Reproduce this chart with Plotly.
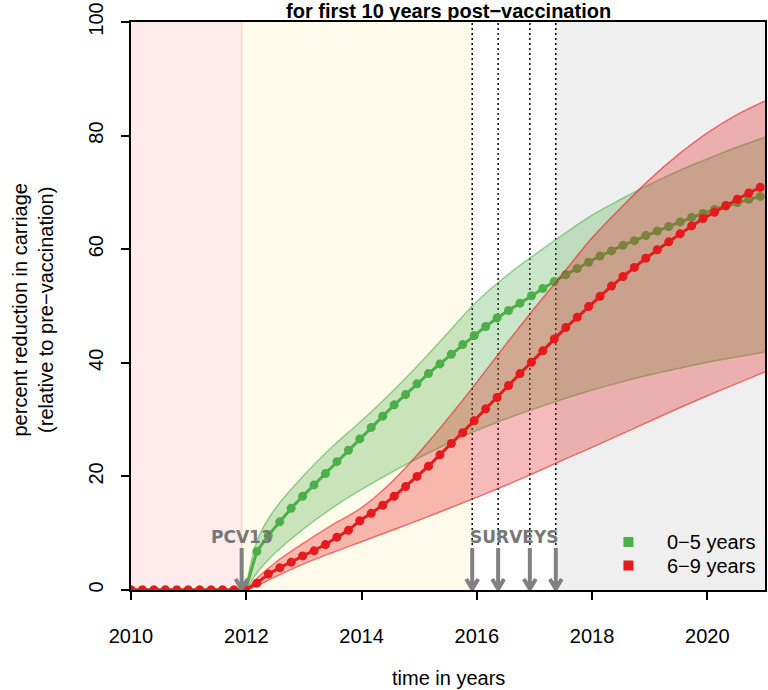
import numpy as np
import plotly.graph_objects as go

# ---- data -------------------------------------------------------------
# model time points (years), one every ~0.2 years from 2010
n_steps = 56
time = np.round(2010 + 0.1985 * np.arange(n_steps), 3)

pre_vaccine = [0.0] * 11  # no reduction before PCV13 introduction

# mean predicted percent reduction in carriage
reduction_0_5 = pre_vaccine + [
    6.8, 9.6, 12.0, 14.4, 16.5, 18.5, 20.5, 22.6, 24.6, 26.6,
    28.6, 30.6, 32.6, 34.4, 36.3, 38.1, 39.8, 41.5, 43.2, 44.8,
    46.4, 47.9, 49.2, 50.5, 51.8, 53.1, 54.3, 55.5, 56.6, 57.7,
    58.8, 59.7, 60.7, 61.5, 62.4, 63.2, 64.0, 64.8, 65.6, 66.3,
    67.0, 67.6, 68.2, 68.8, 69.3,
]
reduction_6_9 = pre_vaccine + [
    1.2, 2.8, 3.9, 4.9, 6.0, 6.9, 8.0, 9.3, 10.5, 12.2,
    13.5, 14.9, 16.5, 18.2, 20.0, 21.8, 23.8, 25.8, 27.7, 29.8,
    31.9, 33.9, 36.0, 38.1, 40.1, 42.1, 44.2, 46.2, 48.0, 49.9,
    51.7, 53.5, 55.2, 56.8, 58.4, 59.9, 61.3, 62.7, 64.1, 65.4,
    66.5, 67.7, 68.8, 69.9, 70.9,
]

# uncertainty bands
band_time = [2011.99, 2012.2, 2012.5, 2013.0, 2013.5, 2014.0, 2014.5, 2015.0,
             2015.5, 2016.0, 2016.5, 2017.0, 2017.5, 2018.0, 2018.5, 2019.0,
             2019.5, 2020.0, 2020.5, 2021.0]
band_0_5_high = [0, 9.0, 14.3, 20.2, 25.3, 29.8, 34.6, 39.8, 45.3, 50.8,
                 55.2, 59.0, 62.6, 66.0, 68.8, 71.4, 73.8, 75.9, 77.9, 79.7]
band_0_5_low = [0, 3.2, 6.5, 10.8, 14.5, 17.7, 20.6, 23.3, 25.8, 28.1,
                30.1, 31.9, 33.6, 35.2, 36.6, 37.9, 39.0, 40.1, 41.0, 41.9]
band_6_9_high = [0, 2.2, 4.8, 8.3, 11.5, 14.5, 18.8, 24.2, 30.2, 36.6,
                 43.2, 49.6, 55.8, 62.0, 67.3, 72.3, 76.7, 80.5, 83.6, 86.1]
band_6_9_low = [0, 0.8, 2.3, 4.6, 6.6, 8.5, 10.4, 12.3, 14.3, 16.3,
                18.4, 20.6, 22.9, 25.1, 27.4, 29.7, 32.0, 34.2, 36.3, 38.4]

pcv13_date = 2011.92
survey_dates = [2015.92, 2016.37, 2016.92, 2017.37]
x_ticks = [2010, 2012, 2014, 2016, 2018, 2020]
y_ticks = [0, 20, 40, 60, 80, 100]
age_groups = ["0\u22125 years", "6\u22129 years"]

# ---- styling ----------------------------------------------------------
GREEN_RGB = "77,175,74"
RED_RGB = "228,26,28"
GREEN = "#4DAF4A"
RED = "#E41A1C"
ARROW_GREY = "#808080"
FONT = "Liberation Sans"

W, H = 768, 690
M_L, M_R, M_T, M_B = 131, 1, 22, 100
plot_w = W - M_L - M_R
plot_h = H - M_T - M_B

fig = go.Figure()


def add_band(t, lo, hi, rgb):
    fig.add_trace(go.Scatter(
        x=t, y=lo, mode="lines", hoverinfo="skip", showlegend=False,
        line=dict(color=f"rgba({rgb},0.55)", width=1.5, shape="spline"),
    ))
    fig.add_trace(go.Scatter(
        x=t, y=hi, mode="lines", hoverinfo="skip", showlegend=False,
        fill="tonexty", fillcolor=f"rgba({rgb},0.3)",
        line=dict(color=f"rgba({rgb},0.55)", width=1.5, shape="spline"),
    ))


def add_mean(t, y, color):
    fig.add_trace(go.Scatter(
        x=t, y=y, mode="lines+markers", showlegend=False,
        line=dict(color=color, width=3),
        marker=dict(color=color, size=9),
    ))


add_band(band_time, band_0_5_low, band_0_5_high, GREEN_RGB)
add_mean(time, reduction_0_5, GREEN)
add_band(band_time, band_6_9_low, band_6_9_high, RED_RGB)
add_mean(time, reduction_6_9, RED)

# ---- background periods ------------------------------------------------
shapes = [
    dict(type="rect", xref="x", yref="paper", x0=2010, x1=pcv13_date, y0=0, y1=1,
         fillcolor="#FFEBEB", line=dict(width=0), layer="below"),
    dict(type="rect", xref="x", yref="paper", x0=pcv13_date, x1=survey_dates[0],
         y0=0, y1=1, fillcolor="#FFFBEB", line=dict(width=0), layer="below"),
    dict(type="rect", xref="x", yref="paper", x0=survey_dates[-1], x1=2021,
         y0=0, y1=1, fillcolor="#EFEFEF", line=dict(width=0), layer="below"),
    dict(type="line", xref="x", yref="paper", x0=pcv13_date, x1=pcv13_date,
         y0=0, y1=1, line=dict(color="#FFD6CF", width=1.5), layer="below"),
]
for d in survey_dates:
    shapes.append(dict(type="line", xref="x", yref="paper", x0=d, x1=d, y0=0, y1=1,
                       line=dict(color="black", width=1.5, dash="2px,3px"),
                       layer="below"))

# arrows marking vaccine introduction and survey rounds
arrow_path = "M -6,11 L 0,1 L 6,11 M 0,1 L 0,42"
for d in [pcv13_date] + survey_dates:
    shapes.append(dict(type="path", xref="x", yref="y",
                       xsizemode="pixel", ysizemode="pixel",
                       xanchor=d, yanchor=0, path=arrow_path,
                       line=dict(color=ARROW_GREY, width=4), layer="above"))

# legend swatches
legend_x = (630 - M_L) / plot_w
legend_text_x = (667 - M_L) / plot_w
legend_y = [(H - M_B - 542) / plot_h, (H - M_B - 565.5) / plot_h]
for color, ly in zip([GREEN, RED], legend_y):
    shapes.append(dict(type="rect", xref="paper", yref="paper",
                       xsizemode="pixel", ysizemode="pixel",
                       xanchor=legend_x, yanchor=ly, x0=-5, x1=5, y0=-5, y1=5,
                       fillcolor=color, line=dict(width=0), layer="above"))

annotations = [
    dict(text="<b>for first 10 years post\u2212vaccination</b>", xref="paper",
         yref="paper", x=0.5, y=1, yanchor="top", yshift=M_T + 1,
         showarrow=False, borderpad=0,
         font=dict(family=FONT, size=20, color="black")),
    dict(text="time in years", xref="paper", yref="paper", x=0.5, y=0,
         yanchor="middle", yshift=-88, showarrow=False,
         font=dict(family=FONT, size=20, color="black")),
    dict(text="percent reduction in carriage<br>(relative to pre\u2212vaccination)",
         xref="paper", yref="paper", x=0, y=0.5, xanchor="center",
         yanchor="middle", xshift=-98.5, yshift=-4, textangle=-90,
         showarrow=False, font=dict(family=FONT, size=20, color="black")),
    dict(text="<b>PCV13</b>", xref="x", yref="y", x=pcv13_date, y=0,
         yshift=53, showarrow=False,
         font=dict(family="DejaVu Sans", size=17, color="#777777")),
    dict(text="<b>SURVEYS</b>", xref="x", yref="y",
         x=float(np.mean(survey_dates)), y=0, yshift=53, showarrow=False,
         font=dict(family="DejaVu Sans", size=17, color="#777777")),
]
for label, ly in zip(age_groups, legend_y):
    annotations.append(dict(text=label, xref="paper", yref="paper",
                            x=legend_text_x, y=ly, xanchor="left",
                            yanchor="middle", showarrow=False,
                            font=dict(family=FONT, size=20, color="black")))

axis_common = dict(
    showgrid=False, zeroline=False, showline=True, mirror=True,
    linecolor="black", linewidth=2, ticks="outside", ticklen=8,
    tickwidth=1.5, tickcolor="black",
    tickfont=dict(family=FONT, size=20, color="black"),
)

fig.update_layout(
    width=W, height=H,
    margin=dict(l=M_L, r=M_R, t=M_T, b=M_B, pad=0),
    paper_bgcolor="white", plot_bgcolor="white",
    showlegend=False,
    xaxis=dict(range=[2010, 2021], tickvals=x_ticks, ticklabelstandoff=19,
               **axis_common),
    yaxis=dict(range=[0, 100], tickvals=y_ticks, tickangle=-90,
               ticklabelstandoff=10, **axis_common),
    shapes=shapes,
    annotations=annotations,
)

fig.write_html("out.html")
